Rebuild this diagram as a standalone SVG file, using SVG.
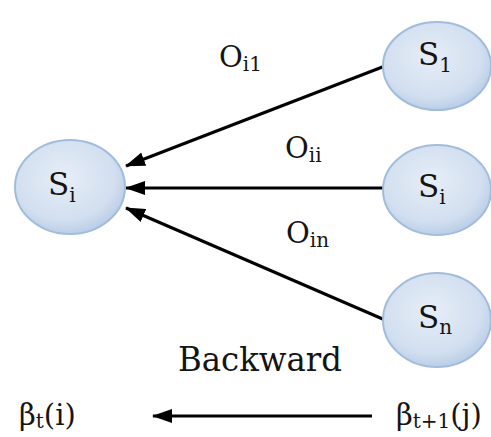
<svg xmlns="http://www.w3.org/2000/svg" width="491" height="437" viewBox="0 0 491 437">
<defs>
<radialGradient id="g" cx="45%" cy="40%" r="65%">
<stop offset="0" stop-color="#e6edf7"/>
<stop offset="0.7" stop-color="#d2dff0"/>
<stop offset="1" stop-color="#b3c9e4"/>
</radialGradient>
<marker id="big" viewBox="0 0 20 14" refX="19" refY="7" markerWidth="20" markerHeight="14" orient="auto" markerUnits="userSpaceOnUse">
<path d="M0,0 L20,7 L0,14 Z" fill="#000"/>
</marker>
</defs>
<style>
.node ellipse{fill:url(#g);stroke:#a2bcdc;stroke-width:2}
text{font-family:'DejaVu Serif',serif;fill:#141414}
.s{font-size:31px}
.o{font-size:29px}
.sub{font-size:20px}
.edge{stroke:#000;stroke-width:3;fill:none;marker-end:url(#big)}
</style>
<g id="connectors">
<line class="edge" x1="385" y1="66" x2="126" y2="166"/>
<line class="edge" x1="385" y1="188" x2="126" y2="188"/>
<line class="edge" x1="385" y1="320" x2="126" y2="208"/>
<line class="edge" x1="372" y1="416" x2="153" y2="416"/>
</g>
<g id="node-si-left" class="node">
<ellipse cx="70" cy="187" rx="55" ry="47"/>
<text class="s" x="48" y="195">S<tspan class="sub" dy="7">i</tspan></text>
</g>
<g id="node-s1" class="node">
<ellipse cx="437" cy="66" rx="54" ry="44"/>
<text class="s" x="418" y="65">S<tspan class="sub" dy="7">1</tspan></text>
</g>
<g id="node-si-right" class="node">
<ellipse cx="437" cy="190" rx="54" ry="45"/>
<text class="s" x="418" y="197">S<tspan class="sub" dy="7">i</tspan></text>
</g>
<g id="node-sn" class="node">
<ellipse cx="437" cy="320" rx="54" ry="47"/>
<text class="s" x="418" y="328">S<tspan class="sub" dy="6">n</tspan></text>
</g>
<g id="labels">
<text class="o" x="219" y="67">O<tspan class="sub" dy="4">i1</tspan></text>
<text class="o" x="285" y="158">O<tspan class="sub" dy="4">ii</tspan></text>
<text class="o" x="286" y="243">O<tspan class="sub" dy="4">in</tspan></text>
<text x="178" y="371" font-size="33" textLength="164" lengthAdjust="spacingAndGlyphs">Backward</text>
<text x="19" y="425" font-size="29">β<tspan class="sub" dy="3">t</tspan><tspan dy="-3">(i)</tspan></text>
<text x="396" y="425" font-size="29">β<tspan class="sub" dy="3">t+1</tspan><tspan dy="-3">(j)</tspan></text>
</g>
</svg>
